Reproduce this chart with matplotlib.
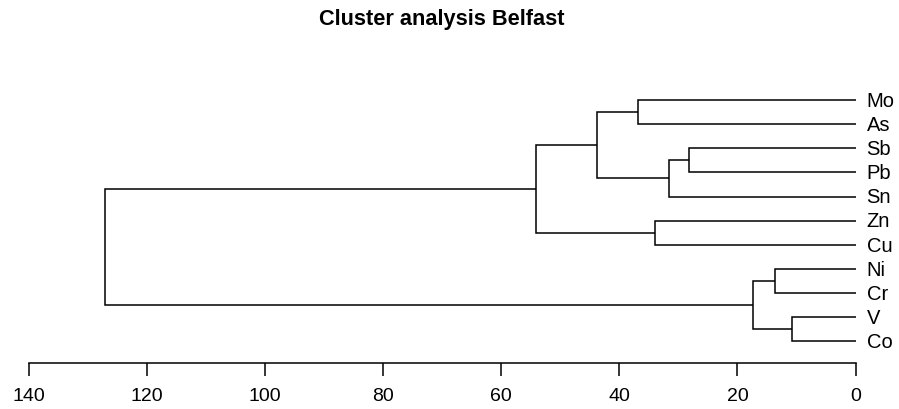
import matplotlib
matplotlib.use("Agg")
import matplotlib.pyplot as plt

plt.rcParams['font.family'] = ['Liberation Sans', 'DejaVu Sans']

# leaves, top to bottom
labels = ["Mo", "As", "Sb", "Pb", "Sn", "Zn", "Cu", "Ni", "Cr", "V", "Co"]

# hclust-style merges: negative = leaf (1-based), positive = earlier merge
merge_left = [-10, -8, 2, -3, 4, -6, -1, 7, 8, 9]
merge_right = [-11, -9, 1, -4, -5, -7, -2, 5, 6, 3]
merge_height = [10.8, 13.6, 17.4, 28.2, 31.6, 34.0, 36.9, 43.8, 54.1, 127.1]

xticks = [0, 20, 40, 60, 80, 100, 120, 140]

fig = plt.figure(figsize=(8.99, 4.09), dpi=100)
ax = fig.add_axes([28.7 / 899, 46.3 / 409, 826.8 / 899, 277 / 409])

lw = 1.1
col = "black"


def node_pos(idx, pos):
    # returns (height, y) of a child reference
    if idx < 0:
        return 0.0, float(-idx - 1)
    return merge_height[idx - 1], pos[idx - 1]


pos = []
for l, r, h in zip(merge_left, merge_right, merge_height):
    hl, yl = node_pos(l, pos)
    hr, yr = node_pos(r, pos)
    ax.plot([hl, h, h, hr], [yl, yl, yr, yr], color=col, lw=lw,
            solid_joinstyle="miter", solid_capstyle="butt")
    pos.append((yl + yr) / 2)

for i, lab in enumerate(labels):
    ax.annotate(lab, (0, i), xytext=(8, -1), textcoords="offset points",
                va="center", ha="left", fontsize=14.5, annotation_clip=False)

ax.set_xlim(140, 0)
ax.set_ylim(len(labels) - 1 + 0.9, -0.6)
for s in ["top", "right", "left"]:
    ax.spines[s].set_visible(False)
ax.spines["bottom"].set_linewidth(lw)
ax.set_yticks([])
ax.set_xticks(xticks)
ax.tick_params(axis="x", length=9.5, width=lw, pad=9, labelsize=14)

fig.text(442 / 899, 1 - 20 / 409, "Cluster analysis Belfast", ha="center",
         va="center", fontsize=15.7, fontweight="bold")

fig.savefig("out.png", dpi=100)
